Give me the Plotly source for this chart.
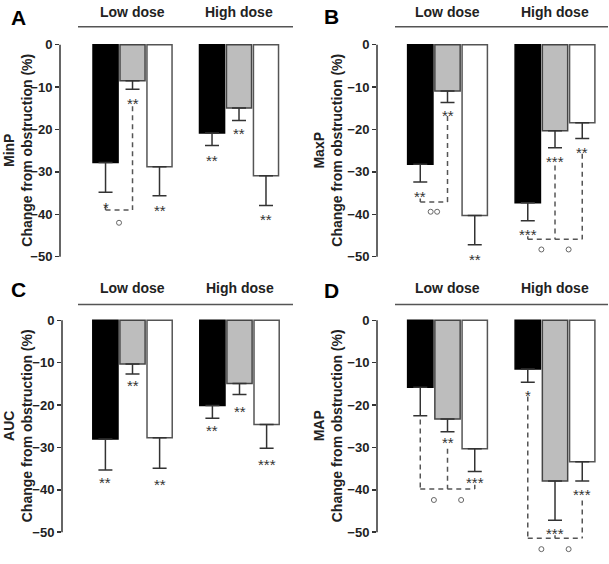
import plotly.graph_objects as go

# ---------------- data ----------------
groups = ["Low dose", "High dose"]
panel_letters = ["A", "B", "C", "D"]
measures = ["MinP", "MaxP", "AUC", "MAP"]
y_ticks = [0, -10, -20, -30, -40, -50]

# means [low dose, high dose] for the three series (black, grey, white)
minp_black = [-27.8, -20.8]
minp_grey = [-8.5, -14.9]
minp_white = [-28.8, -30.9]
minp_black_err = [7.0, 3.0]
minp_grey_err = [2.0, 3.0]
minp_white_err = [6.8, 7.0]

maxp_black = [-28.2, -37.3]
maxp_grey = [-10.9, -20.3]
maxp_white = [-40.3, -18.4]
maxp_black_err = [4.2, 4.2]
maxp_grey_err = [2.7, 4.0]
maxp_white_err = [6.9, 3.7]

auc_black = [-28.0, -20.1]
auc_grey = [-10.3, -14.9]
auc_white = [-27.7, -24.6]
auc_black_err = [7.3, 3.0]
auc_grey_err = [2.4, 2.6]
auc_white_err = [7.2, 5.6]

map_black = [-15.8, -11.5]
map_grey = [-23.3, -37.9]
map_white = [-30.3, -33.4]
map_black_err = [6.7, 3.1]
map_grey_err = [3.0, 9.3]
map_white_err = [5.4, 4.5]

# significance stars: (group, series, text, y)
stars_minp = [(0, 0, "*", -37.6), (0, 1, "**", -13.2), (0, 2, "**", -38.4),
              (1, 0, "**", -26.5), (1, 1, "**", -20.3), (1, 2, "**", -40.5)]
stars_maxp = [(0, 0, "**", -35.1), (0, 1, "**", -16.0), (0, 2, "**", -50.0),
              (1, 0, "***", -44.1), (1, 1, "***", -26.8), (1, 2, "**", -24.6)]
stars_auc = [(0, 0, "**", -37.6), (0, 1, "**", -14.6), (0, 2, "**", -38.0),
             (1, 0, "**", -25.2), (1, 1, "**", -20.7), (1, 2, "***", -33.4)]
stars_map = [(0, 1, "**", -28.2), (0, 2, "***", -37.6),
             (1, 0, "*", -17.0), (1, 1, "***", -49.5), (1, 2, "***", -40.5)]

# dashed comparison brackets: group, legs (series, top y), bottom y, circle marks (s1, s2, count, y)
brackets_minp = [dict(group=0, legs=[(0, -38.0), (1, -14.5)], y=-39.0, marks=[(0, 1, 1, -42.0)])]
brackets_maxp = [dict(group=0, legs=[(0, -36.3), (1, -16.8)], y=-37.1, marks=[(0, 1, 2, -39.4)]),
                 dict(group=1, legs=[(0, -45.2), (1, -28.5), (2, -25.7)], y=-45.9,
                      marks=[(0, 1, 1, -48.3), (1, 2, 1, -48.3)])]
brackets_auc = []
brackets_map = [dict(group=0, legs=[(0, -23.4), (1, -30.3), (2, -38.8)], y=-39.8,
                     marks=[(0, 1, 1, -42.4), (1, 2, 1, -42.4)]),
                dict(group=1, legs=[(0, -18.0), (1, -50.7), (2, -42.5)], y=-51.4,
                     marks=[(0, 1, 1, -54.0), (1, 2, 1, -54.0)])]

panels = [
    dict(means=[minp_black, minp_grey, minp_white],
         errs=[minp_black_err, minp_grey_err, minp_white_err],
         stars=stars_minp, brackets=brackets_minp),
    dict(means=[maxp_black, maxp_grey, maxp_white],
         errs=[maxp_black_err, maxp_grey_err, maxp_white_err],
         stars=stars_maxp, brackets=brackets_maxp),
    dict(means=[auc_black, auc_grey, auc_white],
         errs=[auc_black_err, auc_grey_err, auc_white_err],
         stars=stars_auc, brackets=brackets_auc),
    dict(means=[map_black, map_grey, map_white],
         errs=[map_black_err, map_grey_err, map_white_err],
         stars=stars_map, brackets=brackets_map),
]

# ---------------- styling / layout ----------------
W, H = 609, 564
FONT = "Arial, Liberation Sans, sans-serif"
fill_colors = ["#000000", "#bdbdbd", "#ffffff"]
line_colors = ["#000000", "#454545", "#555555"]
BARGAP = 0.24
GROUPGAP = 0.07
NS = 3
slot = (1 - BARGAP) / NS
group_pos = list(range(len(groups)))


def series_x(group, series):
    return group_pos[group] - (1 - BARGAP) / 2 + slot * (series + 0.5)


def px(v):
    return v / W


def py(v):
    return 1 - v / H


# per-panel geometry (pixels)
geo = [
    dict(x0=60, x1=293, top=37.7, bot=280.6, xr=[-0.681, 1.507], line=(78, 293, 24), head_y=9,
         letter=(18.5, 14.5), title_x=18),
    dict(x0=377, x1=608, top=37.7, bot=280.6, xr=[-0.656, 1.493], line=(395, 608, 24), head_y=9,
         letter=(331.5, 13.5), title_x=328),
    dict(x0=62, x1=293, top=314.7, bot=557.6, xr=[-0.659, 1.5], line=(78, 293, 303), head_y=287,
         letter=(18.5, 288.5), title_x=18),
    dict(x0=377, x1=608, top=314.7, bot=557.6, xr=[-0.656, 1.493], line=(395, 608, 303), head_y=287,
         letter=(331.5, 289.5), title_x=328),
]

fig = go.Figure()
shapes = []
annotations = []
layout = {}

for i, (p, g) in enumerate(zip(panels, geo)):
    n = "" if i == 0 else str(i + 1)
    xa, ya = "x" + n, "y" + n
    for s in range(NS):
        fig.add_trace(go.Bar(
            x=group_pos, y=p["means"][s], xaxis=xa, yaxis=ya,
            marker=dict(color=fill_colors[s], line=dict(color=line_colors[s], width=1.5)),
            error_y=dict(type="data", symmetric=False, array=[0] * len(groups),
                         arrayminus=p["errs"][s], color="#333333", thickness=1.5, width=7),
            showlegend=False, hoverinfo="skip",
        ))
    layout["xaxis" + n] = dict(domain=[px(g["x0"]), px(g["x1"])], range=g["xr"], anchor=ya,
                               showticklabels=False, ticks="", showline=False, showgrid=False,
                               zeroline=False, type="linear")
    layout["yaxis" + n] = dict(domain=[py(g["bot"]), py(g["top"])], range=[-56, 1], anchor=xa,
                               tickvals=y_ticks, ticks="outside", ticklen=4, tickwidth=1.5,
                               tickcolor="#333333", showline=False, showgrid=False, zeroline=False,
                               tickfont=dict(family=FONT, size=13, color="#222222", weight="bold"))
    # y axis line (0 to -50 only)
    shapes.append(dict(type="line", xref=xa + " domain", yref=ya, x0=0, x1=0, y0=-50, y1=0,
                       line=dict(color="#333333", width=1.5)))
    # header line + labels
    lx0, lx1, ly = g["line"]
    shapes.append(dict(type="line", xref="paper", yref="paper", x0=px(lx0), x1=px(lx1),
                       y0=py(ly), y1=py(ly), line=dict(color="#555555", width=1.5)))
    for gi, gname in enumerate(groups):
        annotations.append(dict(xref=xa, yref="paper", x=group_pos[gi], y=py(g["head_y"]), text=gname,
                                showarrow=False, xanchor="center", yanchor="middle",
                                font=dict(family=FONT, size=14, color="#222222", weight="bold")))
    # panel letter
    lx, lyy = g["letter"]
    annotations.append(dict(xref="paper", yref="paper", x=px(lx), y=py(lyy), text=panel_letters[i],
                            showarrow=False, xanchor="center", yanchor="middle",
                            font=dict(family=FONT, size=21, color="#000000", weight="bold")))
    # y title
    annotations.append(dict(xref="paper", yref=ya, x=px(g["title_x"]), y=-25,
                            text=measures[i] + "<br>Change from obstruction (%)",
                            textangle=-90, showarrow=False, xanchor="center", yanchor="middle",
                            font=dict(family=FONT, size=14, color="#222222", weight="bold")))
    # stars
    for gi, s, txt, yv in p["stars"]:
        annotations.append(dict(xref=xa, yref=ya, x=series_x(gi, s), y=yv, text=txt,
                                showarrow=False, xanchor="center", yanchor="middle", yshift=-3,
                                font=dict(family=FONT, size=15, color="#333333")))
    # brackets
    mx, my = [], []
    for b in p["brackets"]:
        legs = b["legs"]
        xs = [series_x(b["group"], s) for s, _ in legs]
        dash = dict(color="#555555", width=1.5, dash="5px,4px")
        shapes.append(dict(type="line", xref=xa, yref=ya, x0=min(xs), x1=max(xs),
                           y0=b["y"], y1=b["y"], line=dash))
        for (s, ytop), xv in zip(legs, xs):
            shapes.append(dict(type="line", xref=xa, yref=ya, x0=xv, x1=xv,
                               y0=ytop, y1=b["y"], line=dash))
        for s1, s2, cnt, yv in b["marks"]:
            xm = (series_x(b["group"], s1) + series_x(b["group"], s2)) / 2
            if cnt == 1:
                mx.append(xm); my.append(yv)
            else:
                mx.extend([xm - 0.03, xm + 0.03]); my.extend([yv, yv])
    if mx:
        fig.add_trace(go.Scatter(x=mx, y=my, xaxis=xa, yaxis=ya, mode="markers",
                                 marker=dict(symbol="circle-open", size=5, color="#666666",
                                             line=dict(width=1)),
                                 showlegend=False, hoverinfo="skip"))

fig.update_layout(
    width=W, height=H, margin=dict(l=0, r=0, t=0, b=0),
    paper_bgcolor="white", plot_bgcolor="white",
    barmode="group", bargap=BARGAP, bargroupgap=GROUPGAP,
    showlegend=False, shapes=shapes, annotations=annotations,
    font=dict(family=FONT),
    **layout,
)

fig.write_html("out.html", config={"displayModeBar": False, "staticPlot": True},
               post_script="document.body.style.margin='0';document.body.style.padding='0';")
